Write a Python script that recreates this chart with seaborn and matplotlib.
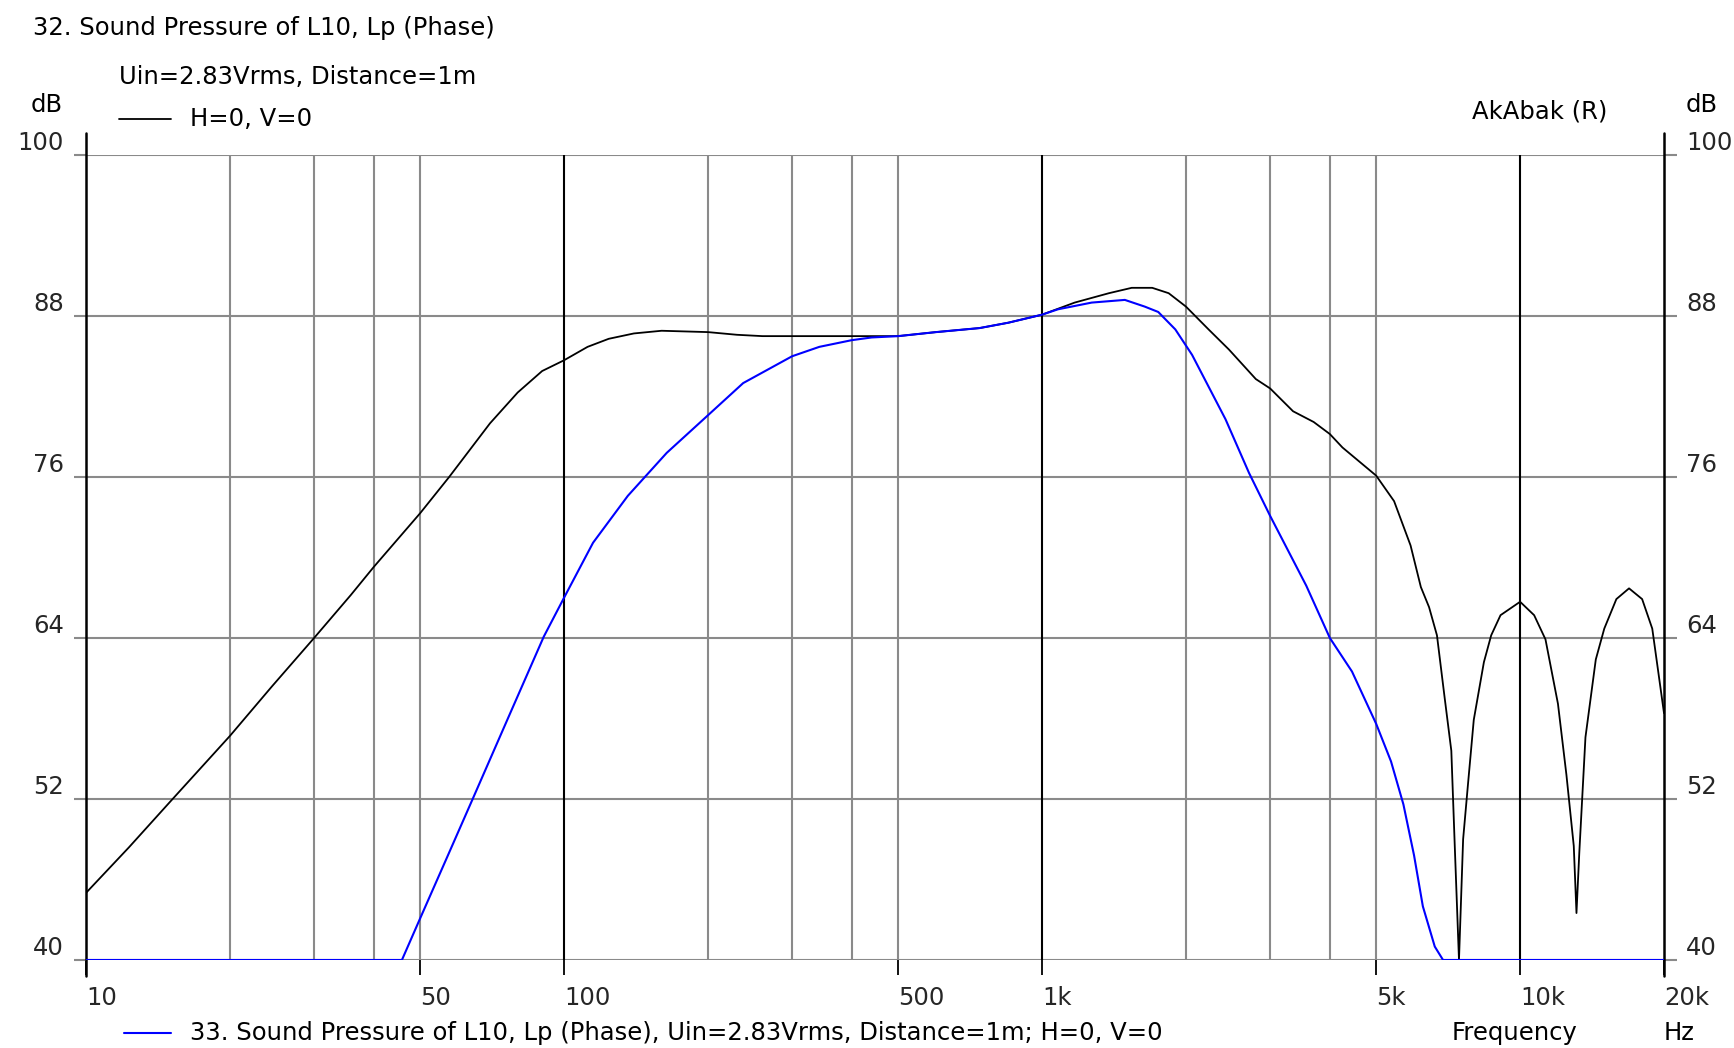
import matplotlib
matplotlib.use("Agg")
import matplotlib.pyplot as plt
from matplotlib.lines import Line2D
import pandas as pd
import seaborn as sns

# Sound pressure, H=0, V=0 (black trace)
freq_h0 = [10, 12.3, 15, 20, 24.5, 30, 35.8, 40, 50, 57.5, 70, 80, 90, 100, 112, 124,
           140, 160, 200, 230, 260, 400, 500, 600, 740, 850, 1000, 1170, 1380, 1540,
           1700, 1840, 2000, 2230, 2460, 2800, 3000, 3350, 3700, 4000, 4250, 5000,
           5450, 5900, 6200, 6450, 6700, 6950, 7180, 7300, 7450, 7600, 7780, 8000,
           8400, 8700, 9100, 10000, 10700, 11300, 12000, 12500, 12950, 13120, 13300,
           13700, 14400, 15000, 15900, 16900, 18000, 18900, 20000]
spl_h0 = [45.0, 48.4, 51.8, 56.7, 60.4, 64.0, 67.2, 69.3, 73.3, 76.0, 80.0, 82.3, 83.9,
          84.7, 85.7, 86.3, 86.7, 86.9, 86.8, 86.6, 86.5, 86.5, 86.5, 86.8, 87.1, 87.5,
          88.1, 89.0, 89.7, 90.1, 90.1, 89.7, 88.7, 87.0, 85.5, 83.3, 82.6, 80.9, 80.1,
          79.2, 78.2, 76.1, 74.2, 70.9, 67.8, 66.3, 64.2, 59.6, 55.6, 48.5, 40.0, 49.0,
          53.1, 57.9, 62.2, 64.2, 65.7, 66.7, 65.7, 63.9, 59.1, 53.8, 48.5, 43.5, 48.0,
          56.6, 62.4, 64.7, 66.9, 67.7, 66.9, 64.7, 58.4]

# Sound pressure of L10 (blue trace)
freq_l10 = [10, 45.8, 50, 57, 64.4, 76.3, 90.7, 100, 115, 136, 164, 200, 237, 300, 342,
            400, 440, 500, 600, 740, 850, 1000, 1080, 1270, 1490, 1640, 1750, 1900,
            2060, 2420, 2710, 3000, 3570, 4000, 4450, 5000, 5370, 5700, 6000, 6260,
            6630, 6900, 20000]
spl_l10 = [40.0, 40.0, 43.1, 47.7, 52.0, 58.0, 64.1, 67.0, 71.1, 74.6, 77.8, 80.6, 83.0,
           85.0, 85.7, 86.2, 86.4, 86.5, 86.8, 87.1, 87.5, 88.1, 88.5, 89.0, 89.2, 88.7,
           88.3, 87.0, 85.1, 80.3, 76.3, 73.1, 67.9, 64.0, 61.5, 57.6, 54.8, 51.6, 47.8,
           44.0, 41.0, 40.0, 40.0]

y_ticks = [40, 52, 64, 76, 88, 100]
x_tick_pos = [10, 50, 100, 500, 1000, 5000, 10000, 20000]
x_tick_labels = ["10", "50", "100", "500", "1k", "5k", "10k", "20k"]
decade_lines = [10, 100, 1000, 10000, 20000]
sub_lines = [20, 30, 40, 50, 200, 300, 400, 500, 2000, 3000, 4000, 5000]

df_h0 = pd.DataFrame({"f": freq_h0, "spl": spl_h0})
df_l10 = pd.DataFrame({"f": freq_l10, "spl": spl_l10})

sns.set_theme(style="white")
plt.rcParams["font.family"] = ["DejaVu Sans"]
FS = 17.5
W, H = 1734, 1048

fig = plt.figure(figsize=(W / 100, H / 100), dpi=100)
ax = fig.add_axes([86 / W, 1 - 960 / H, (1664 - 86) / W, (960 - 155) / H])
ax.set_xscale("log")
ax.set_xlim(10, 20000)
ax.set_ylim(40, 100)

GRAY = "#8a8a8a"
for y in y_ticks:
    ax.axhline(y, color=GRAY, lw=1.5, zorder=1)
for f in sub_lines:
    ax.axvline(f, color=GRAY, lw=1.5, zorder=1)
for f in decade_lines[1:-1]:
    ax.axvline(f, color="black", lw=1.5, zorder=2)
# frame verticals running past the plot area
for f in (decade_lines[0], decade_lines[-1]):
    ax.axvline(f, ymin=-0.02, ymax=1.027, color="black", lw=1.8, zorder=2, clip_on=False)

sns.lineplot(data=df_h0, x="f", y="spl", ax=ax, color="black", lw=1.3,
             estimator=None, sort=False, zorder=3)
sns.lineplot(data=df_l10, x="f", y="spl", ax=ax, color="#0000ff", lw=1.5,
             estimator=None, sort=False, zorder=4)

for s in ax.spines.values():
    s.set_visible(False)
ax.set_xlabel("")
ax.set_ylabel("")

ax.set_xticks(x_tick_pos)
ax.set_xticklabels(x_tick_labels)
ax.xaxis.set_minor_locator(matplotlib.ticker.NullLocator())
ax.tick_params(axis="x", which="major", direction="out", length=11, width=1.3,
               color="black", pad=8, labelsize=FS, bottom=True)
for lab in ax.get_xticklabels():
    lab.set_horizontalalignment("left")

ax.set_yticks(y_ticks)
ax.set_yticklabels([str(v) for v in y_ticks])
ax.tick_params(axis="y", which="major", direction="out", length=9, width=1.5,
               color=GRAY, pad=7, labelsize=FS, left=True, right=True,
               labelleft=True, labelright=True)
for t in ax.yaxis.get_major_ticks():
    t.label1.set_verticalalignment("bottom")
    t.label2.set_verticalalignment("bottom")


def ftext(x, y, s, **kw):
    fig.text(x / W, 1 - y / H, s, fontsize=FS, va="center", color="black", **kw)


ftext(33, 28, "32. Sound Pressure of L10, Lp (Phase)")
ftext(119, 77, "Uin=2.83Vrms, Distance=1m")
ftext(31, 105, "dB")
ftext(1686, 105, "dB")
ftext(1472, 111, "AkAbak (R)")
ftext(190, 119, "H=0, V=0")
fig.add_artist(Line2D([119 / W, 171 / W], [1 - 119 / H, 1 - 119 / H],
                      color="black", lw=1.3, transform=fig.transFigure))
ftext(190, 1033, "33. Sound Pressure of L10, Lp (Phase), Uin=2.83Vrms, Distance=1m; H=0, V=0")
fig.add_artist(Line2D([124 / W, 171 / W], [1 - 1033 / H, 1 - 1033 / H],
                      color="#0000ff", lw=1.5, transform=fig.transFigure))
ftext(1452, 1033, "Frequency")
ftext(1664, 1033, "Hz")

fig.savefig("out.png", dpi=100, facecolor="white")
